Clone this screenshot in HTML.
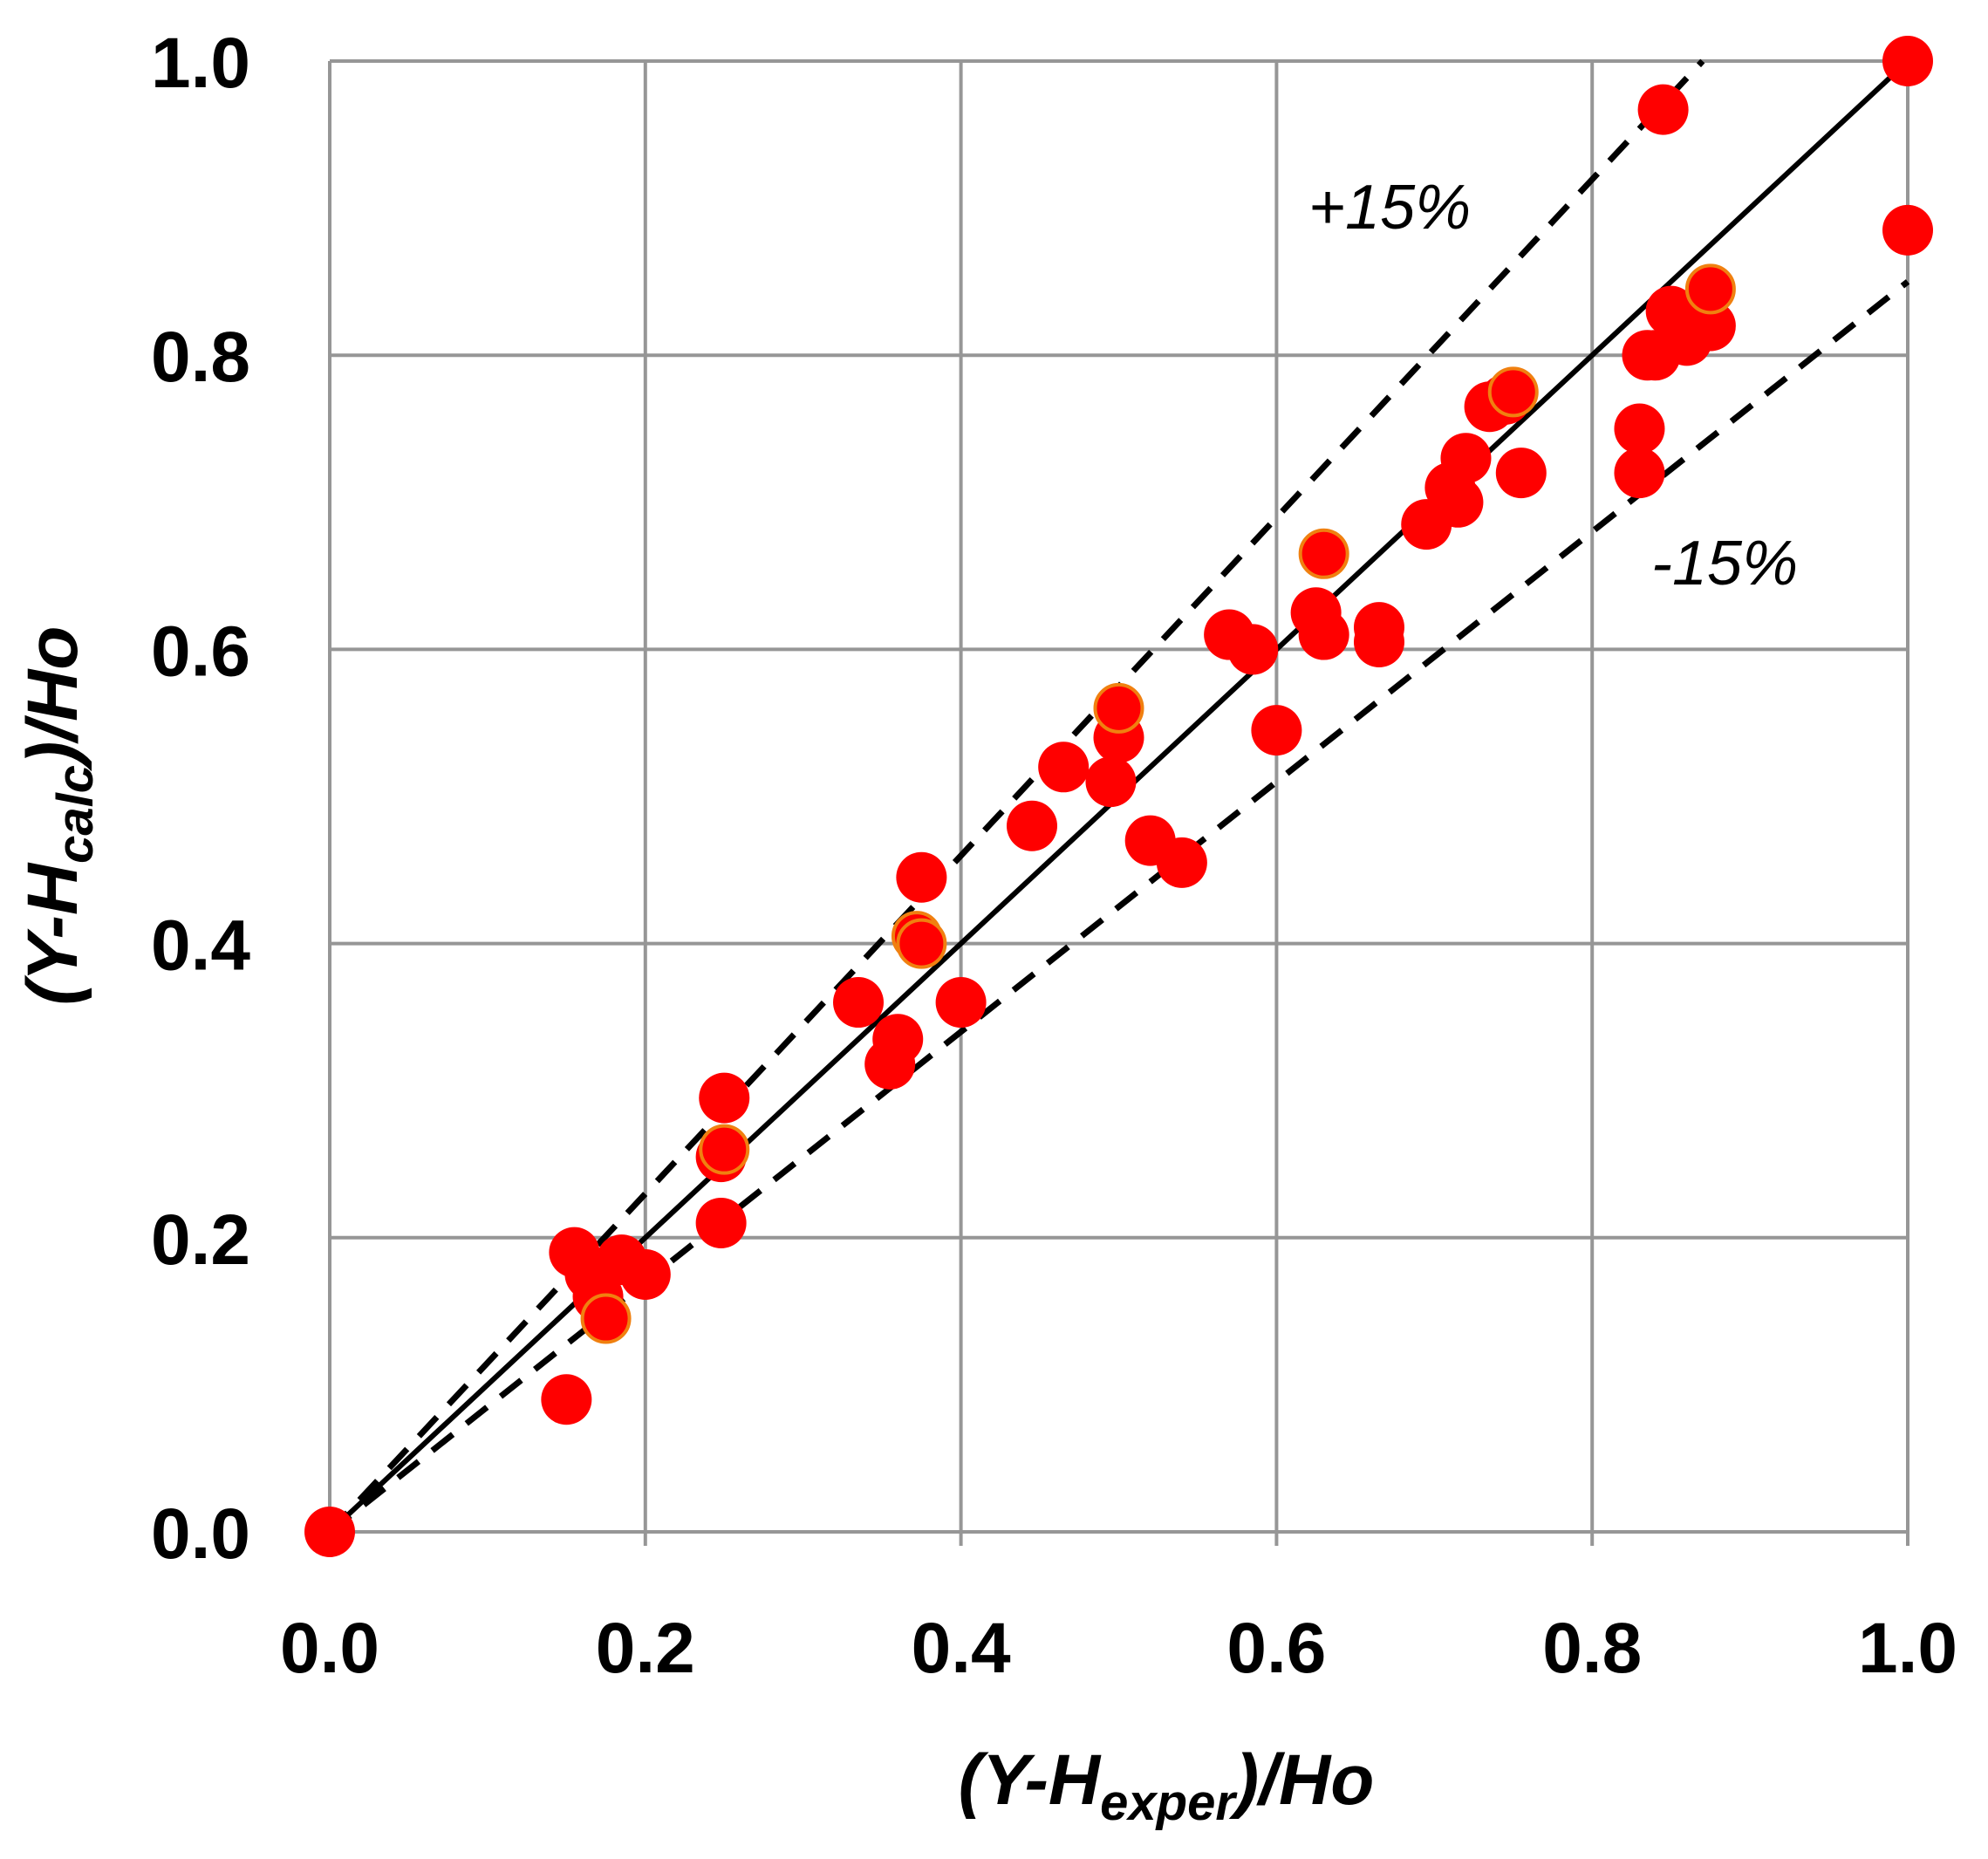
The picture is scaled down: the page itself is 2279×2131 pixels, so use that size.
<!DOCTYPE html>
<html><head><meta charset="utf-8">
<style>
html,body{margin:0;padding:0;background:#fff;}
svg{display:block;}
text{font-family:"Liberation Sans",Arial,sans-serif;}
</style></head><body>
<svg id="s" width="2279" height="2131" viewBox="0 0 2279 2131" xmlns="http://www.w3.org/2000/svg">
<rect width="2279" height="2131" fill="#fff"/>
<g id="grid" stroke="#969696" stroke-width="4"></g>
<g id="lines"></g>
<g id="pts"></g>
<g id="labels" font-weight="bold" font-size="82" fill="#000"></g>
<text x="1500" y="262" font-size="72" font-style="italic">+15%</text>
<text x="1893" y="670" font-size="72" font-style="italic">-15%</text>
<text x="1337" y="2068" font-size="82" font-weight="bold" font-style="italic" text-anchor="middle">(Y-H<tspan font-size="58" dy="18">exper</tspan><tspan dy="-18">)/Ho</tspan></text>
<text transform="translate(88,935) rotate(-90)" font-size="82" font-weight="bold" font-style="italic" text-anchor="middle">(Y-H<tspan font-size="58" dy="18">calc</tspan><tspan dy="-18">)/Ho</tspan></text>
</svg>
<script>
var X0=378,X1=2187,Y0=1756,Y1=70;
function px(x){return X0+(X1-X0)*x;}
function py(y){return Y0-(Y0-Y1)*y;}
var NS="http://www.w3.org/2000/svg";
function el(p,t,a){var e=document.createElementNS(NS,t);for(var k in a)e.setAttribute(k,a[k]);p.appendChild(e);return e;}
var g=document.getElementById("grid");
for(var i=0;i<=5;i++){var v=i/5;
 el(g,"line",{x1:px(v),y1:Y1,x2:px(v),y2:Y0+16});
 el(g,"line",{x1:X0,y1:py(v),x2:X1,y2:py(v)});
}
var lb=document.getElementById("labels");
for(var i=0;i<=5;i++){var v=i/5,s=v.toFixed(1);
 var t=el(lb,"text",{x:px(v),y:1917,"text-anchor":"middle"});t.textContent=s;
 var t2=el(lb,"text",{x:287,y:py(v)+30,"text-anchor":"end"});t2.textContent=s;
}
var L=document.getElementById("lines");
el(L,"line",{x1:px(0),y1:py(0),x2:px(0.87),y2:py(1),stroke:"#000","stroke-width":7,"stroke-dasharray":"30,20"});
el(L,"line",{x1:px(0),y1:py(0),x2:px(1),y2:py(0.85),stroke:"#000","stroke-width":7,"stroke-dasharray":"30,20"});
el(L,"line",{x1:px(0),y1:py(0),x2:px(1),y2:py(1),stroke:"#000","stroke-width":6});
var P=[[0,0],[1,1],[1,0.885],[0.845,0.967],[0.85,0.83],[0.86,0.81],[0.875,0.82],[0.84,0.80],[0.835,0.80],[0.875,0.845,1],
[0.83,0.75],[0.83,0.72],[0.735,0.765],[0.745,0.77],[0.755,0.72],[0.72,0.73],[0.71,0.71],[0.715,0.70],[0.695,0.685],[0.75,0.775,1],
[0.625,0.625],[0.63,0.61],[0.665,0.615],[0.665,0.605],[0.63,0.665,1],
[0.57,0.61],[0.585,0.60],[0.60,0.545],
[0.50,0.54],[0.495,0.51],[0.465,0.52],[0.445,0.48],[0.52,0.47],[0.54,0.455],[0.50,0.56,1],
[0.375,0.445],[0.4,0.36],[0.335,0.36],[0.36,0.335],[0.355,0.318],[0.372,0.405,1],[0.375,0.40,1],
[0.25,0.295],[0.248,0.255],[0.248,0.21],[0.25,0.26,1],
[0.155,0.19],[0.165,0.175],[0.17,0.16],[0.2,0.175],[0.185,0.185],[0.15,0.09],[0.175,0.145,1]];
var G=document.getElementById("pts");
P.forEach(function(p){
 var a={cx:px(p[0]),cy:py(p[1]),r:29,fill:"#ff0000"};
 if(p[2]){a.stroke="#f08010";a["stroke-width"]=4;a.r=27;}
 el(G,"circle",a);
});
</script>
</body></html>
